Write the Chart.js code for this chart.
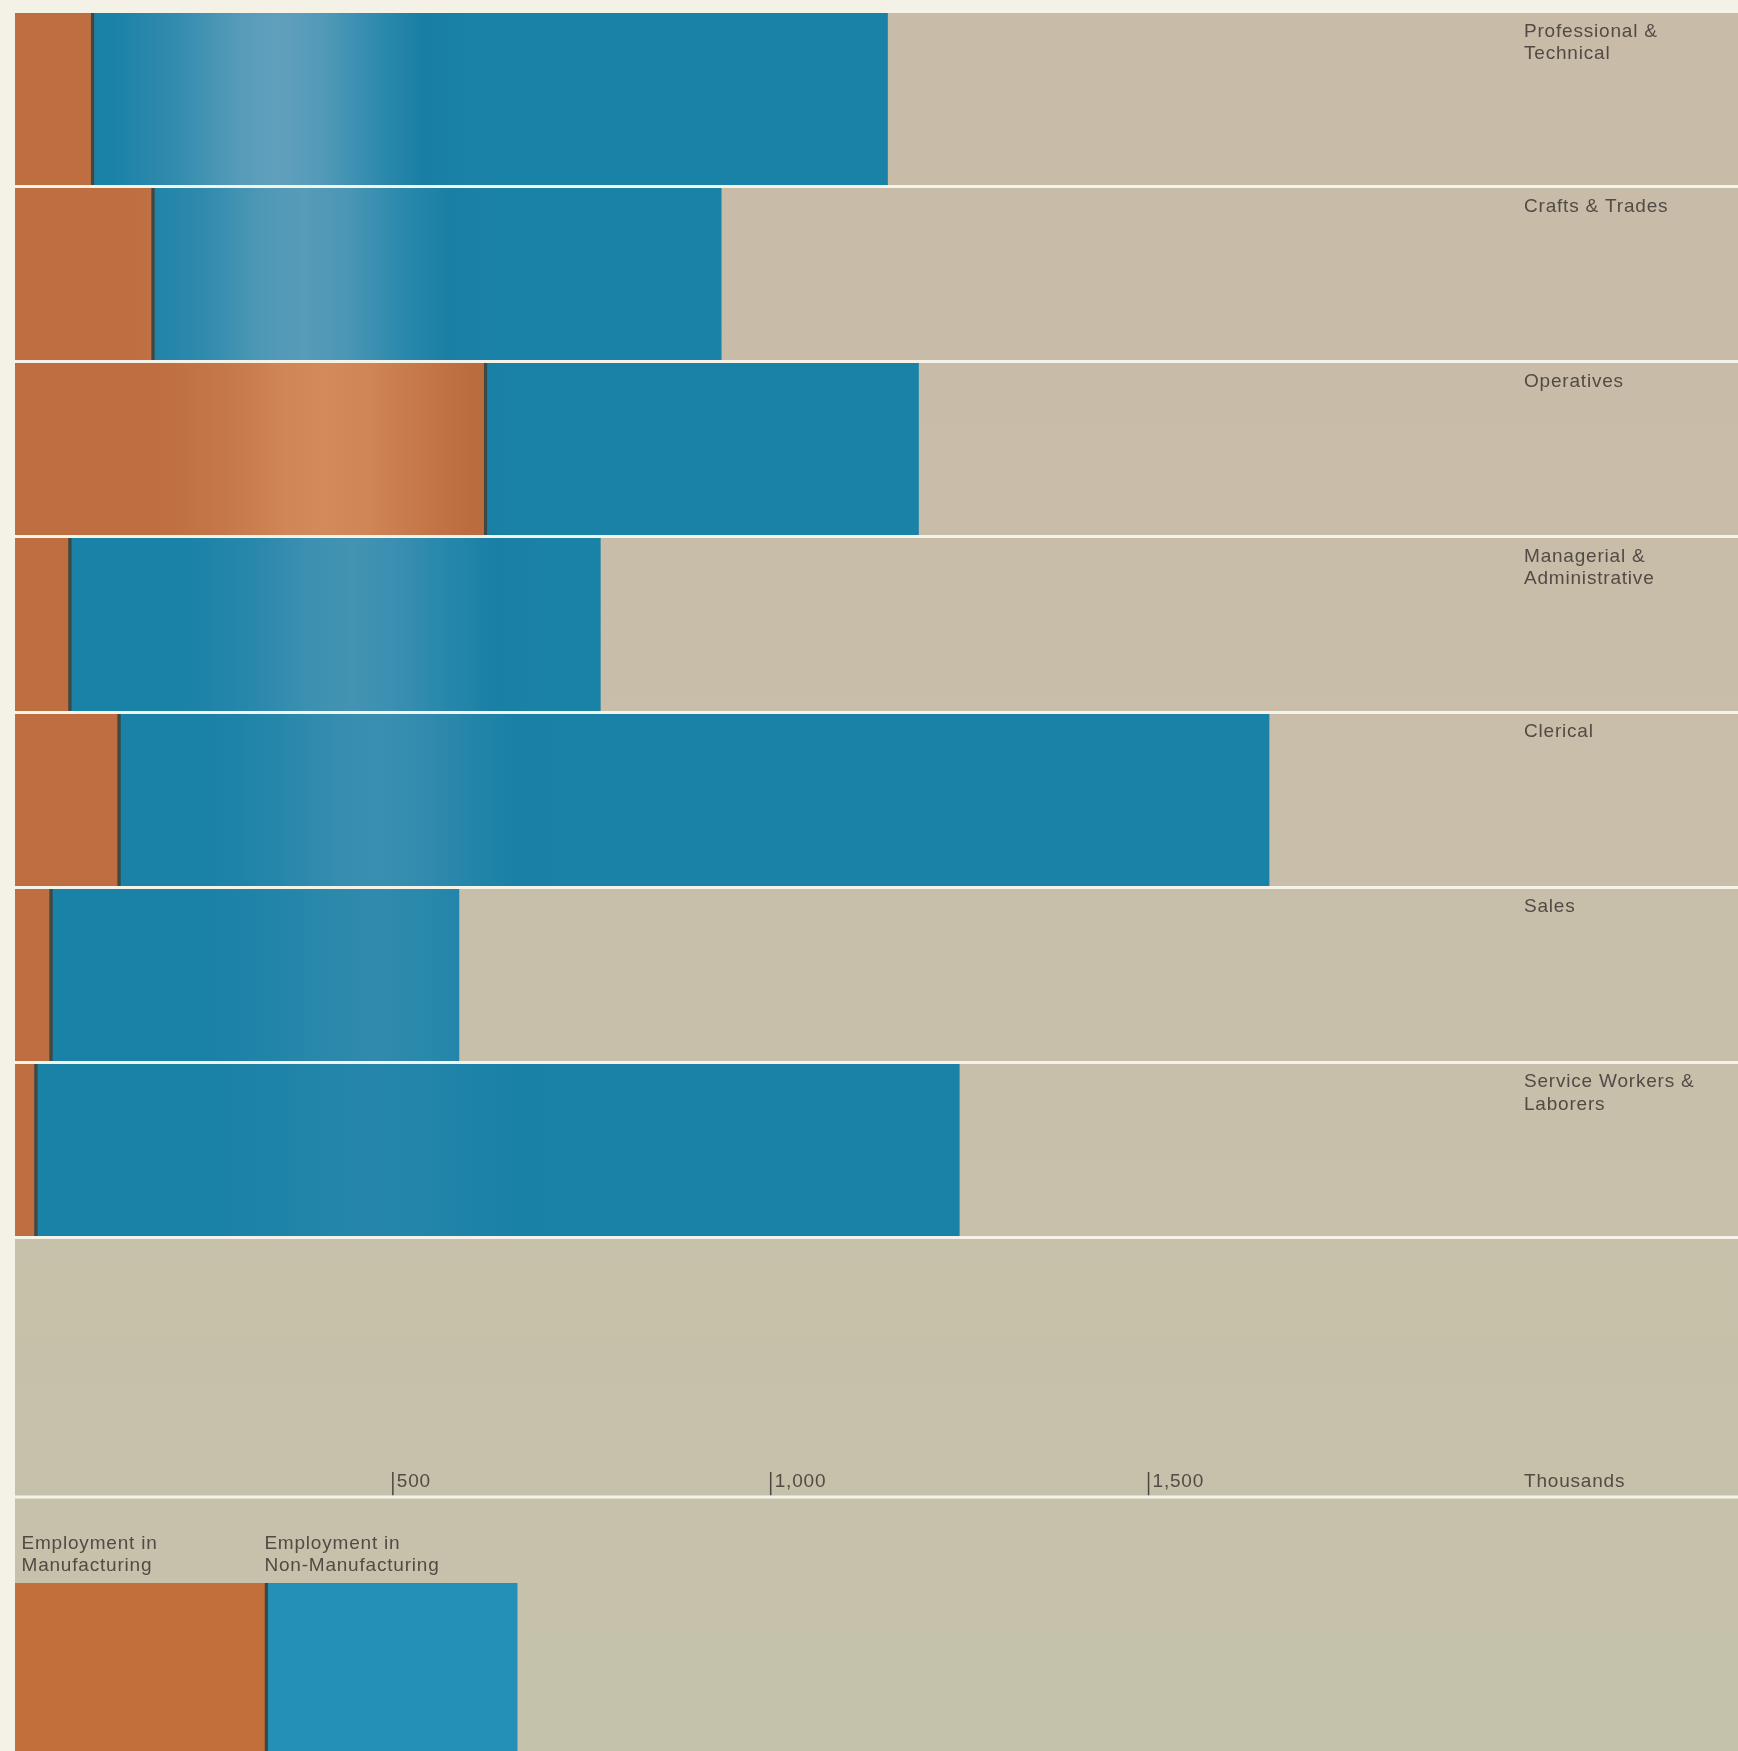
<!DOCTYPE html>
<html>
<head>
<meta charset="utf-8">
<title>Employment by Occupation</title>
<script src="https://cdn.jsdelivr.net/npm/chart.js@4.4.1/dist/chart.umd.min.js"></script>
<style>
  html, body { margin: 0; padding: 0; background: #f4f1e6; }
  #page { position: relative; width: 1738px; height: 1751px; overflow: hidden; }
  #main { position: absolute; left: 0; top: 0; }
  #key { position: absolute; left: 0; top: 1497px; }
</style>
</head>
<body>
<div id="page">
  <canvas id="main" width="1738" height="1497"></canvas>
  <canvas id="key" width="1738" height="254"></canvas>
</div>
<script>
// Occupational groups (thousands of workers)
const occupations = [
  ['Professional &', 'Technical'],
  ['Crafts & Trades'],
  ['Operatives'],
  ['Managerial &', 'Administrative'],
  ['Clerical'],
  ['Sales'],
  ['Service Workers &', 'Laborers']
];
const manufacturing    = [100, 180, 620, 70, 135, 45, 25];
const nonManufacturing = [1055, 755, 576, 705, 1525, 543, 1225];

const tickValues = [500, 1000, 1500];
const tickLabels = ['500', '1,000', '1,500'];
const unitLabel  = 'Thousands';

// Key block at the foot of the page
const keyLabels = [['Employment in', 'Manufacturing'], ['Employment in', 'Non-Manufacturing']];
const keyManufacturing    = [330];
const keyNonManufacturing = [335];

// ---- styling ----
const X_MAX = 2280;
const LABEL_X = 1524;
const FONT = '19px "Liberation Sans", Arial, Helvetica, sans-serif';
const INK = '#524b45';
const RULE = '#f5f2e7';
const PAPER_MARGIN = '#f4f1e6';
const ORANGE = [190, 110, 64], ORANGE_LIGHT = [228, 162, 114];
const BLUE = [26, 129, 167], BLUE_LIGHT = [124, 172, 196];
const DIVIDER = '#3e4844';
const GLARE_X = 280, GLARE_STEP = 24, GLARE_HALF = 170;

const rgb = c => `rgb(${c.map(Math.round).join(',')})`;
const mix = (a, b, t) => a.map((v, i) => v + (b[i] - v) * t);

// Sheen across the glossy ink, drifting right and fading towards the lower rows
function sheen(base, light, strength) {
  return (ctx) => {
    const chart = ctx.chart, area = chart.chartArea;
    if (!area || ctx.type !== 'data') return rgb(base);
    const i = ctx.dataIndex;
    const s = Math.max(0, strength - 0.1 * i);
    const cx = GLARE_X + GLARE_STEP * Math.min(i, 4);
    const g = chart.ctx.createLinearGradient(area.left, 0, area.right, 0);
    const w = area.right - area.left;
    const pts = [[-1, 0], [-0.6, 0.35], [-0.25, 0.85], [0, 1], [0.25, 0.8], [0.6, 0.25], [0.85, -0.03], [1.1, 0]];
    g.addColorStop(0, rgb(base));
    pts.forEach(([k, m]) => {
      const t = Math.min(1, Math.max(0, (cx + k * GLARE_HALF - area.left) / w));
      const col = m >= 0 ? mix(base, light, m * s) : mix(base, [0, 0, 0], -m * s);
      g.addColorStop(t, rgb(col));
    });
    g.addColorStop(1, rgb(base));
    return g;
  };
}

function textLines(c, lines, x, y, lh) {
  lines.forEach((t, i) => c.fillText(t, x, y + i * lh));
}

function setFont(c) {
  c.font = FONT;
  c.fillStyle = INK;
  c.textAlign = 'left';
  c.textBaseline = 'alphabetic';
  if ('letterSpacing' in c) c.letterSpacing = '0.8px';
}

// Paper, row captions and the scale strip for the main chart
const mainDecor = {
  id: 'mainDecor',
  beforeDraw(chart) {
    const c = chart.ctx, a = chart.chartArea;
    c.save();
    c.fillStyle = PAPER_MARGIN;
    c.fillRect(0, 0, chart.width, chart.height);
    const g = c.createLinearGradient(0, a.top, 0, chart.height);
    g.addColorStop(0, '#c8bba8');
    g.addColorStop(0.55, '#c8bea9');
    g.addColorStop(1, '#c6c1aa');
    c.fillStyle = g;
    c.fillRect(a.left, a.top, chart.width - a.left, chart.height - a.top);
    c.restore();
  },
  afterDraw(chart) {
    const c = chart.ctx, a = chart.chartArea;
    const xs = chart.scales.x, ys = chart.scales.y;
    const H = chart.height;
    c.save();
    setFont(c);
    occupations.forEach((lines, i) => {
      const top = ys.getPixelForValue(i - 0.5);
      textLines(c, lines, LABEL_X, top + 25, 22.5);
    });
    // scale strip
    c.strokeStyle = '#4a4641';
    c.lineWidth = 1.5;
    tickValues.forEach((v, i) => {
      const px = xs.getPixelForValue(v);
      c.beginPath();
      c.moveTo(px, H - 25);
      c.lineTo(px, H - 1.5);
      c.stroke();
      c.fillText(tickLabels[i], px + 4, H - 10);
    });
    c.fillText(unitLabel, LABEL_X, H - 10);
    c.fillStyle = RULE;
    c.fillRect(a.left, H - 1.5, chart.width - a.left, 1.5);
    c.restore();
  }
};

const keyDecor = {
  id: 'keyDecor',
  beforeDraw(chart) {
    const c = chart.ctx, a = chart.chartArea;
    c.save();
    c.fillStyle = PAPER_MARGIN;
    c.fillRect(0, 0, chart.width, chart.height);
    const g = c.createLinearGradient(0, 0, 0, chart.height);
    g.addColorStop(0, '#c6c1aa');
    g.addColorStop(1, '#c5c2ab');
    c.fillStyle = g;
    c.fillRect(a.left, 0, chart.width - a.left, chart.height);
    c.fillStyle = RULE;
    c.fillRect(a.left, 0, chart.width - a.left, 1.5);
    c.restore();
  },
  afterDraw(chart) {
    const c = chart.ctx, xs = chart.scales.x;
    c.save();
    setFont(c);
    textLines(c, keyLabels[0], xs.getPixelForValue(0) + 6.5, 51.5, 22);
    textLines(c, keyLabels[1], xs.getPixelForValue(keyManufacturing[0]), 51.5, 22);
    c.restore();
  }
};

const dividerBorder = { top: 0, right: 0, bottom: 0, left: 4 };

function baseOptions(padding, ruled) {
  return {
    indexAxis: 'y',
    responsive: false,
    animation: false,
    devicePixelRatio: 1,
    layout: { padding },
    plugins: { legend: { display: false }, tooltip: { enabled: false } },
    scales: {
      x: { stacked: true, min: 0, max: X_MAX, display: false },
      y: {
        stacked: true,
        display: true,
        ticks: { display: false },
        border: { display: false },
        grid: ruled
          ? { display: true, offset: true, color: RULE, lineWidth: 3, drawTicks: false, z: 1 }
          : { display: false },
        afterFit(s) { s.width = 0; }
      }
    }
  };
}

new Chart(document.getElementById('main'), {
  type: 'bar',
  data: {
    labels: occupations,
    datasets: [
      {
        label: 'Employment in Manufacturing',
        data: manufacturing,
        backgroundColor: sheen(ORANGE, ORANGE_LIGHT, 0.75),
        borderWidth: 0,
        barPercentage: 1, categoryPercentage: 1
      },
      {
        label: 'Employment in Non-Manufacturing',
        data: nonManufacturing,
        backgroundColor: sheen(BLUE, BLUE_LIGHT, 0.72),
        borderColor: DIVIDER,
        borderWidth: dividerBorder,
        borderSkipped: false,
        barPercentage: 1, categoryPercentage: 1
      }
    ]
  },
  options: baseOptions({ left: 15, top: 11.5, right: 0, bottom: 259.5 }, true),
  plugins: [mainDecor]
});

new Chart(document.getElementById('key'), {
  type: 'bar',
  data: {
    labels: ['Key'],
    datasets: [
      {
        label: 'Employment in Manufacturing',
        data: keyManufacturing,
        backgroundColor: '#c36f3c',
        borderWidth: 0,
        barPercentage: 1, categoryPercentage: 1
      },
      {
        label: 'Employment in Non-Manufacturing',
        data: keyNonManufacturing,
        backgroundColor: '#2490b8',
        borderColor: DIVIDER,
        borderWidth: dividerBorder,
        borderSkipped: false,
        barPercentage: 1, categoryPercentage: 1
      }
    ]
  },
  options: baseOptions({ left: 15, top: 86, right: 0, bottom: 0 }, false),
  plugins: [keyDecor]
});
</script>
</body>
</html>
